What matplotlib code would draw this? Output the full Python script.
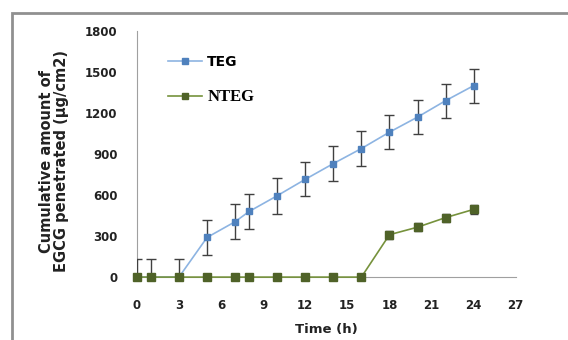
import matplotlib
matplotlib.use("Agg")
import matplotlib.pyplot as plt
from matplotlib.patches import Rectangle
from matplotlib.lines import Line2D

time_h = [0, 1, 3, 5, 7, 8, 10, 12, 14, 16, 18, 20, 22, 24]
teg = [0, 0, 0, 290, 405, 480, 595, 715, 830, 940, 1060, 1170, 1290, 1400]
teg_err = [130, 130, 130, 130, 130, 130, 130, 125, 125, 125, 125, 125, 125, 125]
nteg = [0, 0, 0, 0, 0, 0, 0, 0, 0, 0, 310, 365, 435, 495]
nteg_err = [10, 10, 10, 10, 10, 10, 10, 10, 10, 10, 30, 30, 30, 30]
xticks = [0, 3, 6, 9, 12, 15, 18, 21, 24, 27]
yticks = [0, 300, 600, 900, 1200, 1500, 1800]

plt.rcParams['font.family'] = ['DejaVu Sans']
fig = plt.figure(figsize=(5.68, 3.40), dpi=100)
ax = fig.add_axes([0.241, 0.185, 0.667, 0.724])

# outer frame
fig.patches.append(Rectangle((12/568, -0.1), 1.2, 1 - 13/340 + 0.1, transform=fig.transFigure,
                             fill=False, edgecolor='#909090', linewidth=2))

c1 = ax.errorbar(time_h, teg, yerr=teg_err, color='#8DB4E2', lw=1.2, marker='s', ms=5,
                 mfc='#4F81BD', mec='#4F81BD', ecolor='#404040', elinewidth=1, capsize=3.5,
                 capthick=1, zorder=3)
c2 = ax.errorbar(time_h, nteg, yerr=nteg_err, color='#76923C', lw=1.2, marker='s', ms=5.5,
                 mfc='#4F6228', mec='#4F6228', ecolor='#404040', elinewidth=1, capsize=3,
                 capthick=1, zorder=4)
c1[0].set_clip_on(False)
c2[0].set_clip_on(False)

ax.set_xlim(0, 27)
ax.set_ylim(0, 1800)
ax.set_xticks(xticks)
ax.set_yticks(yticks)
ax.tick_params(length=0, labelsize=8.5)
ax.tick_params(axis='x', pad=16)
ax.tick_params(axis='y', pad=14)
for lab in ax.get_xticklabels() + ax.get_yticklabels():
    lab.set_fontweight('bold')
    lab.set_color('#222222')
for s in ['top', 'right']:
    ax.spines[s].set_visible(False)
ax.spines['left'].set_color('#a0a0a0')
ax.spines['bottom'].set_color('#a0a0a0')
ax.set_xlabel('Time (h)', fontsize=9.5, fontweight='bold', labelpad=8, color='#222222')
ax.set_ylabel('Cumulative amount of\nEGCG penetrated (µg/cm2)', fontsize=10.5,
              fontweight='bold', linespacing=1.05, color='#222222')
ax.yaxis.set_label_coords(-0.178, 0.47)

h1 = Line2D([], [], color='#8DB4E2', lw=1.2, marker='s', ms=4, mfc='#4F81BD', mec='#4F81BD')
h2 = Line2D([], [], color='#76923C', lw=1.2, marker='s', ms=5, mfc='#4F6228', mec='#4F6228')
leg = ax.legend([h1, h2], ['TEG', 'NTEG'], loc='upper left', bbox_to_anchor=(0.05, 0.955),
                frameon=False, fontsize=10, handlelength=2.4, handletextpad=0.4,
                labelspacing=1.5)
texts = leg.get_texts()
texts[0].set_fontweight('bold')
texts[1].set_fontweight('bold')
texts[1].set_family(['Liberation Serif', 'DejaVu Serif'])
texts[1].set_fontsize(12)

fig.savefig('out.png', dpi=100)
